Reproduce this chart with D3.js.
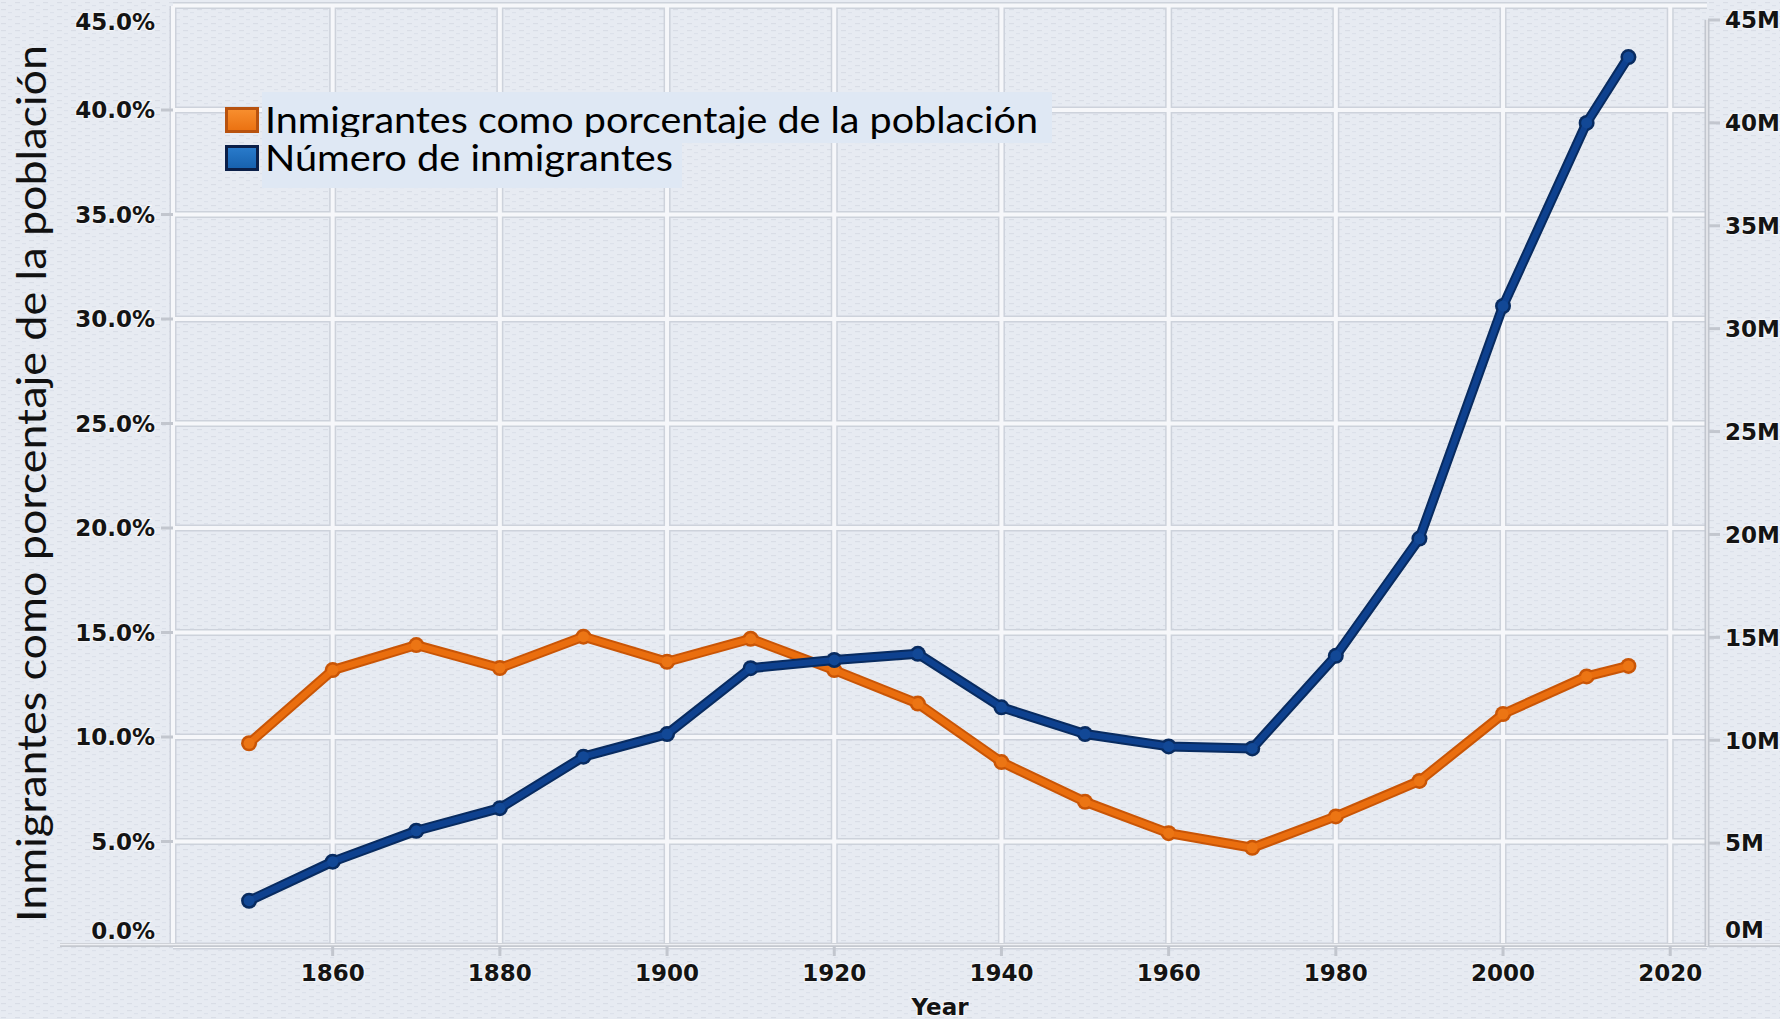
<!DOCTYPE html>
<html>
<head>
<meta charset="utf-8">
<script src="https://cdn.jsdelivr.net/npm/d3@7"></script>
<style>
html,body{margin:0;padding:0;background:#e7ebf2;}
svg{display:block;}
</style>
</head>
<body>
<svg id="chart" width="1780" height="1019"></svg>
<script>
// ---- data ----
const years = [1850,1860,1870,1880,1890,1900,1910,1920,1930,1940,1950,1960,1970,1980,1990,2000,2010,2015];
const pctValues = [9.7,13.2,14.4,13.3,14.8,13.6,14.7,13.2,11.6,8.8,6.9,5.4,4.7,6.2,7.9,11.1,12.9,13.4];
const numValues = [2.2,4.1,5.6,6.7,9.2,10.3,13.5,13.9,14.2,11.6,10.3,9.7,9.6,14.1,19.8,31.1,40.0,43.2];
const xTicks = [1860,1880,1900,1920,1940,1960,1980,2000,2020];
const pctTicks = [0,5,10,15,20,25,30,35,40,45];
const numTicks = [0,5,10,15,20,25,30,35,40,45];
const seriesNames = ["Inmigrantes como porcentaje de la población","Número de inmigrantes"];
const yTitle = "Inmigrantes como porcentaje de la población";
const xTitle = "Year";

// ---- layout ----
const svg = d3.select("#chart");
const W = 1780, H = 1019;
const plotL = 173, plotR = 1707, plotB = 946, plotT = 6;

const x = d3.scaleLinear().domain([1840.9, 2024.4]).range([plotL, plotR]);
const yL = d3.scaleLinear().domain([0, 45]).range([plotB, 5.5]);
const yR = d3.scaleLinear().domain([0, 45]).range([plotB, 20]);

// background with faint texture
const defs = svg.append("defs");
const pat = defs.append("pattern").attr("id","tex").attr("width",14).attr("height",7).attr("patternUnits","userSpaceOnUse");
pat.append("rect").attr("width",14).attr("height",7).attr("fill","#e7ebf2");
pat.append("rect").attr("x",1).attr("y",2).attr("width",5).attr("height",1.2).attr("fill","#d3d8e2").attr("opacity",0.7);
pat.append("rect").attr("x",8).attr("y",5).attr("width",4).attr("height",1.2).attr("fill","#d6dbe5").attr("opacity",0.6);
svg.append("rect").attr("width",W).attr("height",H).attr("fill","url(#tex)");

// grid lines
const grid = svg.append("g");
const hLines = pctTicks;
const vLines = xTicks;
function gridLine(sel, c, w) {
  sel.selectAll(null).data(hLines).enter().append("line")
    .attr("x1", plotL).attr("x2", plotR).attr("y1", d => yL(d)).attr("y2", d => yL(d))
    .attr("stroke", c).attr("stroke-width", w);
  sel.selectAll(null).data(vLines).enter().append("line")
    .attr("x1", d => x(d)).attr("x2", d => x(d)).attr("y1", plotT).attr("y2", plotB)
    .attr("stroke", c).attr("stroke-width", w);
  sel.append("line").attr("x1", plotL).attr("x2", plotL).attr("y1", plotT).attr("y2", plotB)
    .attr("stroke", c).attr("stroke-width", w);
}
gridLine(grid, "#cdd2db", 7);
gridLine(grid, "#f6f7fa", 4);

// x axis line (full width)
svg.append("line").attr("x1", 60).attr("x2", W).attr("y1", 945).attr("y2", 945)
  .attr("stroke", "#c4c8cf").attr("stroke-width", 4);
svg.append("line").attr("x1", 60).attr("x2", W).attr("y1", 944.5).attr("y2", 944.5)
  .attr("stroke", "#eef0f4").attr("stroke-width", 1.5);
// right axis line
svg.append("line").attr("x1", plotR).attr("x2", plotR).attr("y1", 20).attr("y2", 946)
  .attr("stroke", "#c2c6ce").attr("stroke-width", 5);
svg.append("line").attr("x1", plotR).attr("x2", plotR).attr("y1", 20).attr("y2", 946)
  .attr("stroke", "#eceef2").attr("stroke-width", 1.5);

// ticks
const tickColor = "#c2c6ce";
svg.selectAll(null).data(xTicks).enter().append("line")
  .attr("x1", d => x(d)).attr("x2", d => x(d)).attr("y1", 946).attr("y2", 956)
  .attr("stroke", tickColor).attr("stroke-width", 3);
svg.selectAll(null).data(pctTicks.filter(d => d > 0 && d < 45)).enter().append("line")
  .attr("x1", 161).attr("x2", plotL).attr("y1", d => yL(d)).attr("y2", d => yL(d))
  .attr("stroke", tickColor).attr("stroke-width", 3);
svg.selectAll(null).data(numTicks.filter(d => d > 0)).enter().append("line")
  .attr("x1", plotR + 1).attr("x2", 1720).attr("y1", d => yR(d)).attr("y2", d => yR(d))
  .attr("stroke", tickColor).attr("stroke-width", 3);

// tick labels
const tickFont = "'DejaVu Sans', sans-serif";
function labelStyle(sel) {
  sel.attr("font-family", tickFont).attr("font-weight", "bold").attr("font-size", 23)
    .attr("fill", "#141414").attr("stroke", "#ffffff").attr("stroke-width", 2.5)
    .attr("stroke-opacity", 0.55).attr("paint-order", "stroke");
}
const fmtPct = d3.format(".1f");
svg.selectAll(null).data(pctTicks).enter().append("text")
  .attr("x", 155)
  .attr("y", d => Math.min(Math.max(yL(d), 22), 931))
  .attr("dy", "0.36em").attr("text-anchor", "end")
  .text(d => fmtPct(d) + "%").call(labelStyle);
svg.selectAll(null).data(numTicks).enter().append("text")
  .attr("x", 1725)
  .attr("y", d => Math.min(yR(d), 930))
  .attr("dy", "0.36em").attr("text-anchor", "start")
  .text(d => d + "M").call(labelStyle);
svg.selectAll(null).data(xTicks).enter().append("text")
  .attr("x", d => x(d)).attr("y", 981).attr("text-anchor", "middle")
  .text(d => d).call(labelStyle);
svg.append("text").attr("x", 940).attr("y", 1015).attr("text-anchor", "middle")
  .text(xTitle).call(labelStyle);

// y title
svg.append("text")
  .attr("transform", "translate(46,483.5) rotate(-90)")
  .attr("text-anchor", "middle")
  .attr("font-family", "Lato, 'Open Sans', sans-serif")
  .attr("font-size", 41).attr("fill", "#111")
  .attr("textLength", 877).attr("lengthAdjust", "spacingAndGlyphs")
  .text(yTitle);

// series lines
function drawSeries(vals, yScale, outer, inner, dot) {
  const line = d3.line().x((d, i) => x(years[i])).y(d => yScale(d));
  const g = svg.append("g");
  g.append("path").datum(vals).attr("d", line).attr("fill", "none")
    .attr("stroke", outer).attr("stroke-width", 10).attr("stroke-linejoin", "round").attr("stroke-linecap", "round");
  g.selectAll(null).data(vals).enter().append("circle")
    .attr("cx", (d, i) => x(years[i])).attr("cy", d => yScale(d)).attr("r", 8).attr("fill", outer);
  g.append("path").datum(vals).attr("d", line).attr("fill", "none")
    .attr("stroke", inner).attr("stroke-width", 6).attr("stroke-linejoin", "round").attr("stroke-linecap", "round");
  g.selectAll(null).data(vals).enter().append("circle")
    .attr("cx", (d, i) => x(years[i])).attr("cy", d => yScale(d)).attr("r", 5.5).attr("fill", dot);
}
drawSeries(pctValues, yL, "#c95506", "#ea6e0e", "#ec7514");
drawSeries(numValues, yR, "#082b60", "#0e418f", "#124896");

// legend
const lg = svg.append("g");
lg.append("rect").attr("x", 262).attr("y", 92).attr("width", 790).attr("height", 51).attr("fill", "#dfe8f4");
lg.append("text").attr("x", 265).attr("y", 133)
  .attr("font-family", "Lato, 'Open Sans', sans-serif").attr("font-size", 37).attr("fill", "#000")
  .attr("textLength", 773).attr("lengthAdjust", "spacingAndGlyphs")
  .text(seriesNames[0]);
lg.append("rect").attr("x", 262).attr("y", 137).attr("width", 420).attr("height", 51).attr("fill", "#dfe8f4");
lg.append("text").attr("x", 265).attr("y", 171)
  .attr("font-family", "Lato, 'Open Sans', sans-serif").attr("font-size", 37).attr("fill", "#000")
  .attr("textLength", 408).attr("lengthAdjust", "spacingAndGlyphs")
  .text(seriesNames[1]);
const grO = defs.append("linearGradient").attr("id","gO").attr("x1",0).attr("y1",0).attr("x2",0).attr("y2",1);
grO.append("stop").attr("offset","0%").attr("stop-color","#f89030");
grO.append("stop").attr("offset","100%").attr("stop-color","#ea7010");
const grB = defs.append("linearGradient").attr("id","gB").attr("x1",0).attr("y1",0).attr("x2",0).attr("y2",1);
grB.append("stop").attr("offset","0%").attr("stop-color","#2a7ccc");
grB.append("stop").attr("offset","100%").attr("stop-color","#1660ad");
lg.append("rect").attr("x", 226.5).attr("y", 108.5).attr("width", 31).attr("height", 23)
  .attr("fill", "url(#gO)").attr("stroke", "#b8520e").attr("stroke-width", 3);
lg.append("rect").attr("x", 226.5).attr("y", 146.5).attr("width", 31).attr("height", 23)
  .attr("fill", "url(#gB)").attr("stroke", "#0b1f48").attr("stroke-width", 3);
</script>
</body>
</html>
